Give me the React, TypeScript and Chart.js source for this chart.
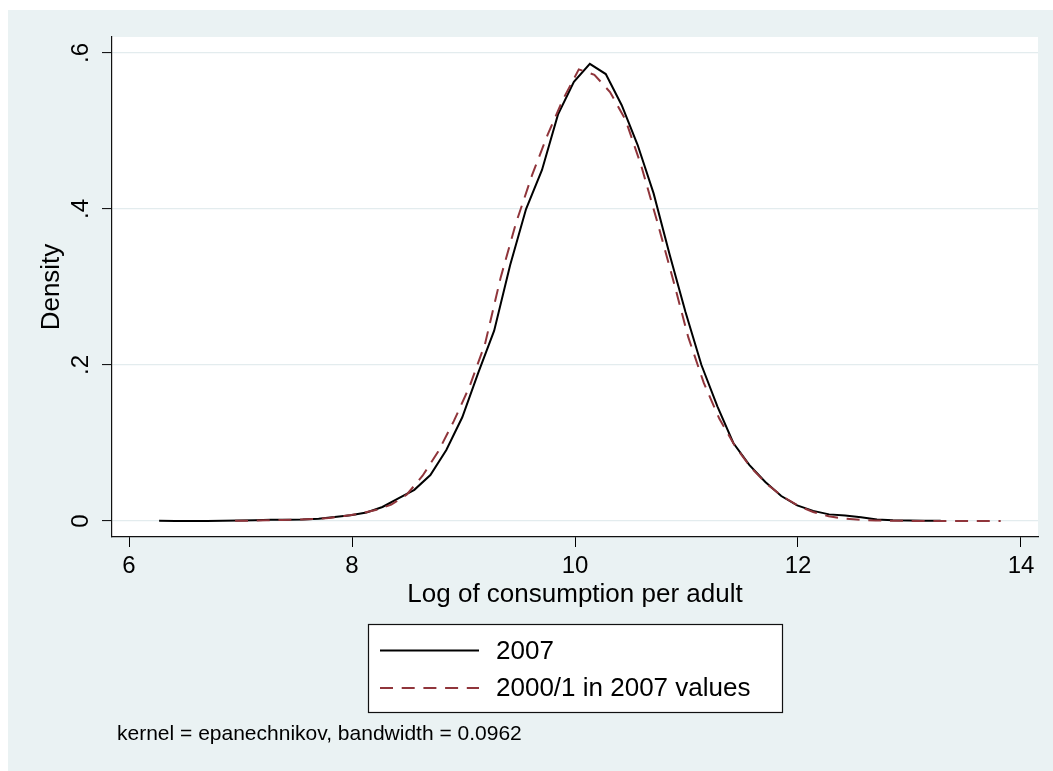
import React, { useEffect, useRef } from "react";
import { Chart, registerables } from "chart.js";

Chart.register(...registerables);

// ---- data ----
const X_2007 = [6.270, 6.413, 6.556, 6.699, 6.842, 6.985, 7.129, 7.272, 7.415, 7.558, 7.701, 7.844, 7.987, 8.130, 8.273, 8.416, 8.559, 8.703, 8.846, 8.989, 9.132, 9.275, 9.418, 9.561, 9.704, 9.847, 9.990, 10.133, 10.276, 10.419, 10.562, 10.705, 10.848, 10.991, 11.134, 11.277, 11.420, 11.563, 11.707, 11.850, 11.993, 12.136, 12.279, 12.422, 12.565, 12.708, 12.851, 12.994, 13.137, 13.280];
const Y_2007 = [0.0002, 0.0001, 0.0001, 0.0001, 0.0002, 0.0005, 0.001, 0.0015, 0.0015, 0.002, 0.003, 0.005, 0.0075, 0.011, 0.018, 0.029, 0.040, 0.059, 0.091, 0.133, 0.190, 0.244, 0.328, 0.400, 0.450, 0.521, 0.563, 0.586, 0.573, 0.533, 0.482, 0.420, 0.342, 0.268, 0.200, 0.147, 0.100, 0.072, 0.050, 0.032, 0.020, 0.013, 0.0085, 0.007, 0.0048, 0.002, 0.001, 0.0005, 0.0003, 0.0003];

const X_2000 = [6.951, 7.091, 7.231, 7.371, 7.511, 7.652, 7.792, 7.932, 8.072, 8.212, 8.352, 8.492, 8.633, 8.773, 8.913, 9.053, 9.193, 9.333, 9.473, 9.614, 9.754, 9.894, 10.034, 10.174, 10.314, 10.454, 10.595, 10.735, 10.875, 11.015, 11.155, 11.295, 11.435, 11.576, 11.716, 11.856, 11.996, 12.136, 12.276, 12.416, 12.557, 12.697, 12.837, 12.977, 13.117, 13.257, 13.397, 13.538, 13.678, 13.818];
const Y_2000 = [0.0003, 0.0005, 0.001, 0.0012, 0.0018, 0.0025, 0.004, 0.0065, 0.0095, 0.014, 0.021, 0.034, 0.058, 0.089, 0.128, 0.172, 0.227, 0.312, 0.383, 0.443, 0.495, 0.541, 0.579, 0.572, 0.550, 0.514, 0.455, 0.385, 0.312, 0.236, 0.177, 0.131, 0.096, 0.069, 0.048, 0.032, 0.020, 0.0115, 0.006, 0.003, 0.0015, 0.0007, 0.0003, 0.0002, 0.0001, 0.0001, 0.0001, 0.0001, 0.0001, 0.0001];

const SERIES_LABELS = ["2007", "2000/1 in 2007 values"];
const X_TICKS = [6, 8, 10, 12, 14];
const Y_TICKS = [0, 0.2, 0.4, 0.6];
const Y_TICK_LABELS = ["0", ".2", ".4", ".6"];
const X_TITLE = "Log of consumption per adult";
const Y_TITLE = "Density";
const NOTE = "kernel = epanechnikov, bandwidth = 0.0962";

// ---- style ----
const FONT = "'Liberation Sans', Arial, Helvetica, sans-serif";
const BG = "#eaf2f3";
const GRID = "#e3ecee";
const BLACK_LINE = "#000000";
const MAROON = "#90353b";
const DASH = [13, 8.7];
const W = 1045;
const H = 761;

const backgroundPlugin = {
  id: "stataBackground",
  beforeDraw(chart: any) {
    const { ctx, chartArea } = chart;
    ctx.save();
    ctx.fillStyle = BG;
    ctx.fillRect(0, 0, chart.width, chart.height);
    ctx.fillStyle = "#ffffff";
    ctx.fillRect(chartArea.left, chartArea.top, chartArea.right - chartArea.left, chartArea.bottom - chartArea.top);
    ctx.restore();
  },
};

const legendNotePlugin = {
  id: "stataLegendNote",
  afterDraw(chart: any) {
    const { ctx } = chart;
    const ds = chart.data.datasets;
    ctx.save();
    // legend box
    const bx = 360, by = 614, bw = 414, bh = 88;
    ctx.fillStyle = "#ffffff";
    ctx.fillRect(bx, by, bw, bh);
    ctx.strokeStyle = "#111111";
    ctx.lineWidth = 1.2;
    ctx.strokeRect(bx + 0.5, by + 0.5, bw, bh);
    const rows = [640.5, 678];
    ds.forEach((d: any, i: number) => {
      const y = rows[i];
      ctx.beginPath();
      ctx.setLineDash(d.borderDash || []);
      ctx.strokeStyle = d.borderColor;
      ctx.lineWidth = d.borderWidth;
      ctx.moveTo(372, y);
      ctx.lineTo(471, y);
      ctx.stroke();
      ctx.setLineDash([]);
      ctx.fillStyle = "#000000";
      ctx.font = `26px ${FONT}`;
      ctx.textAlign = "left";
      ctx.textBaseline = "middle";
      ctx.fillText(d.label, 488, y + 1);
    });
    // note
    ctx.font = `21px ${FONT}`;
    ctx.fillStyle = "#000000";
    ctx.textAlign = "left";
    ctx.textBaseline = "middle";
    ctx.fillText(NOTE, 109, 724.5);
    ctx.restore();
  },
};

export default function App() {
  const canvasRef = useRef<HTMLCanvasElement | null>(null);

  useEffect(() => {
    const canvas = canvasRef.current;
    if (!canvas) return;
    const chart = new Chart(canvas, {
      type: "line",
      data: {
        datasets: [
          {
            label: SERIES_LABELS[0],
            data: X_2007.map((x, i) => ({ x, y: Y_2007[i] })),
            borderColor: BLACK_LINE,
            borderWidth: 2,
            pointRadius: 0,
            tension: 0,
            fill: false,
            order: 2,
          },
          {
            label: SERIES_LABELS[1],
            data: X_2000.map((x, i) => ({ x, y: Y_2000[i] })),
            borderColor: MAROON,
            borderWidth: 2,
            borderDash: DASH,
            pointRadius: 0,
            tension: 0,
            fill: false,
            order: 1,
          },
        ],
      },
      options: {
        responsive: false,
        animation: false,
        devicePixelRatio: 1,
        layout: { padding: { left: 0, top: 27, right: 15, bottom: 161 } },
        plugins: {
          legend: { display: false },
          tooltip: { enabled: false },
          title: { display: false },
        },
        scales: {
          x: {
            type: "linear",
            position: "bottom",
            min: 5.8475,
            max: 14.1525,
            afterBuildTicks: (scale: any) => {
              scale.ticks = X_TICKS.map((v) => ({ value: v }));
            },
            afterFit: (scale: any) => {
              scale.height = 73;
            },
            ticks: {
              autoSkip: false,
              maxRotation: 0,
              minRotation: 0,
              padding: 5,
              color: "#000",
              font: { family: FONT, size: 24 },
              callback: (v: any) => String(v),
            },
            grid: {
              display: true,
              drawOnChartArea: false,
              drawTicks: true,
              tickLength: 10,
              tickColor: "#000",
              tickWidth: 1,
            },
            border: { display: true, color: "#111", width: 1.2 },
            title: {
              display: true,
              text: X_TITLE,
              color: "#000",
              font: { family: FONT, size: 26 },
              padding: { top: 0, bottom: 0 },
            },
          },
          y: {
            type: "linear",
            position: "left",
            min: -0.0205,
            max: 0.6205,
            afterBuildTicks: (scale: any) => {
              scale.ticks = Y_TICKS.map((v) => ({ value: v }));
            },
            afterFit: (scale: any) => {
              scale.width = 104;
            },
            ticks: {
              autoSkip: false,
              minRotation: 90,
              maxRotation: 90,
              crossAlign: "center",
              padding: 11,
              color: "#000",
              font: { family: FONT, size: 24 },
              callback: (v: any) => {
                const idx = Y_TICKS.findIndex((t) => Math.abs(t - v) < 1e-9);
                return idx >= 0 ? Y_TICK_LABELS[idx] : "";
              },
            },
            grid: {
              display: true,
              drawOnChartArea: true,
              drawTicks: true,
              color: GRID,
              lineWidth: 1.2,
              tickLength: 10,
              tickColor: "#000",
              tickWidth: 1,
            },
            border: { display: true, color: "#111", width: 1.2 },
            title: {
              display: true,
              text: Y_TITLE,
              color: "#000",
              font: { family: FONT, size: 26 },
              padding: { top: 28, bottom: 0 },
            },
          },
        },
      } as any,
      plugins: [backgroundPlugin, legendNotePlugin],
    });
    return () => chart.destroy();
  }, []);

  return (
    <div
      style={{
        position: "fixed",
        left: 8,
        top: 10,
        right: 0,
        bottom: 0,
        background: BG,
        overflow: "hidden",
      }}
    >
      <canvas ref={canvasRef} width={W} height={H} style={{ display: "block", width: W, height: H }} />
    </div>
  );
}
